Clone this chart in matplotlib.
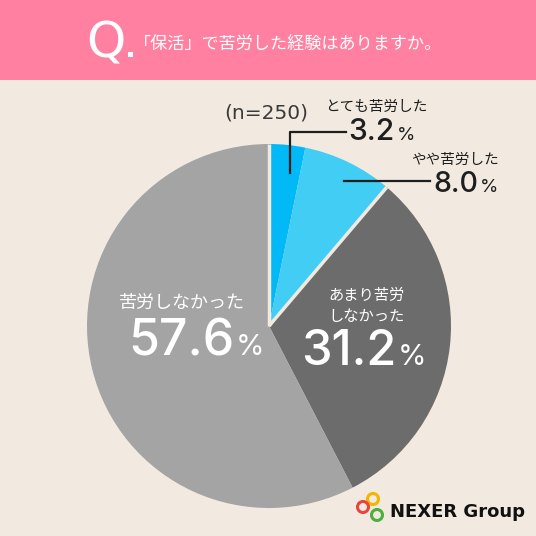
import matplotlib
matplotlib.use("Agg")
import matplotlib.pyplot as plt
from matplotlib.patches import Rectangle, Circle
import numpy as np

# ---- data ----
categories = ["とても苦労した", "やや苦労した", "あまり苦労\nしなかった", "苦労しなかった"]
values = [3.2, 8.0, 31.2, 57.6]
colors = ["#00B9F6", "#41CDF4", "#6C6C6C", "#A4A4A4"]
title = "「保活」で苦労した経験はありますか。"
sample = "(n=250)"

BG = "#F2EAE0"
PINK = "#FF80A0"
JP = ["Noto Sans CJK JP", "DejaVu Sans"]
NUM = ["Inter", "DejaVu Sans"]

W = H = 536
fig = plt.figure(figsize=(5.36, 5.36), dpi=100, facecolor=BG)

# background axes (pixel coords)
axb = fig.add_axes([0, 0, 1, 1], zorder=0)
axb.set_xlim(0, W); axb.set_ylim(H, 0); axb.axis("off")
axb.add_patch(Rectangle((0, 0), W, 80, color=PINK, lw=0))

# pie axes
cx, cy, r = 269, 326, 182
axp = fig.add_axes([(cx - r) / W, (H - cy - r) / H, 2 * r / W, 2 * r / H], zorder=1)
wedges, _ = axp.pie(values, colors=colors, startangle=90, counterclock=False,
                    radius=1, wedgeprops=dict(linewidth=0))
for ang in (wedges[0].theta2, wedges[1].theta1):
    t = np.deg2rad(ang)
    axp.plot([0, np.cos(t)], [0, np.sin(t)], color=BG, lw=2.5, solid_capstyle="butt")
axp.set_xlim(-1, 1); axp.set_ylim(-1, 1); axp.set_aspect("equal"); axp.axis("off")

# overlay axes
ax = fig.add_axes([0, 0, 1, 1], zorder=2)
ax.set_xlim(0, W); ax.set_ylim(H, 0); ax.axis("off"); ax.patch.set_alpha(0)

# header
ax.text(106, 58, "Q", color="white", fontsize=36, family=["DejaVu Sans"], ha="center", va="baseline")
ax.add_patch(Rectangle((127.5, 52), 5, 5, color="white", lw=0))
ax.text(288, 45, title, color="white", fontsize=12.3, family=JP, ha="center", va="center")

# sample size
ax.text(266, 113, sample, color="#3A3A3A", fontsize=14.5, family=["DejaVu Sans"], ha="center", va="center")

DARK = "#1E1E1E"
def pct(xr, yb, val, size, psize, color):
    ax.text(xr, yb, f"{val:.1f}", color=color, fontsize=size, family=NUM, fontweight="medium",
            ha="right", va="baseline")
    ax.text(xr + 2, yb, "%", color=color, fontsize=psize, family=NUM, ha="left", va="baseline")

# small slices (outside, with leaders)
ax.text(376, 107, categories[0], color=DARK, fontsize=10.5, family=JP, ha="center", va="center")
pct(395, 140, values[0], 21.5, 13.5, DARK)
ax.plot([290, 290, 346], [173, 132, 132], color=DARK, lw=1.6)

ax.text(455, 160, categories[1], color=DARK, fontsize=10.5, family=JP, ha="center", va="center")
pct(478, 192, values[1], 20.5, 13.5, DARK)
ax.plot([344, 430], [181, 181], color=DARK, lw=1.6)

# large slices (inside)
ax.text(366, 306, categories[2], color="white", fontsize=11, family=JP, ha="center", va="center", linespacing=1.25)
pct(396, 365, values[2], 35, 21, "white")

ax.text(182, 303, categories[3], color="white", fontsize=13, family=JP, ha="center", va="center")
pct(234, 355, values[3], 36, 21, "white")

# logo
for (x, y, c) in [(373, 499, "#F4B400"), (363, 507, "#E8453C"), (377, 515, "#4CAF3E")]:
    ax.add_patch(Circle((x, y), 5.5, fill=False, ec=c, lw=2.2))
ax.text(390, 517, "NEXER Group", color="#111111", fontsize=13, family=["DejaVu Sans"],
        fontweight="bold", ha="left", va="baseline")

fig.savefig("out.png", dpi=100, facecolor=BG)
